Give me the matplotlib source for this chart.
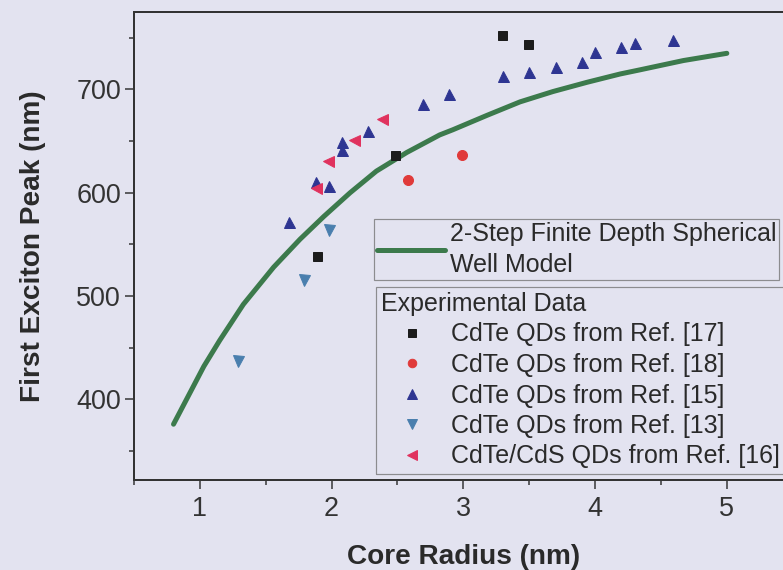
import matplotlib
matplotlib.use("Agg")
import matplotlib.pyplot as plt
from matplotlib.ticker import MultipleLocator

plt.rcParams['font.family'] = ['Liberation Sans', 'DejaVu Sans']

#%% data
# model curve (2-step finite depth spherical well)
model_r  = [0.80, 1.03, 1.15, 1.33, 1.56, 1.76, 1.94, 2.14, 2.34, 2.57,
            2.82, 2.92, 3.18, 3.43, 3.68, 3.94, 4.19, 4.34, 4.67, 5.00]
model_pk = [376, 432, 457, 492, 528, 555, 577, 600, 621, 639,
            656, 661, 675, 688, 698, 707, 715, 719, 728, 735]

# experimental data
ref17_r  = [1.89, 2.48, 3.29, 3.49]
ref17_pk = [539, 637, 753, 744]

ref18_r  = [2.58, 2.99]
ref18_pk = [612, 637]

ref15_r  = [1.68, 1.88, 1.98, 2.08, 2.08, 2.28, 2.69, 2.89, 3.30, 3.50,
            3.70, 3.90, 4.00, 4.20, 4.30, 4.59]
ref15_pk = [572, 610, 607, 649, 641, 660, 686, 696, 713, 717,
            722, 727, 736, 741, 745, 748]

ref13_r  = [1.29, 1.79, 1.98]
ref13_pk = [437, 516, 564]

ref16_r  = [1.88, 1.97, 2.17, 2.38]
ref16_pk = [605, 631, 651, 671]

#%% plot
W, H = 783, 570
bg = '#e3e3f0'
fig = plt.figure(figsize=(W / 72, H / 72), dpi=72, facecolor=bg)
ax = fig.add_axes([134 / W, 90 / H, (792.7 - 134) / W, (480 - 12) / H])
ax.set_facecolor(bg)

model_line, = ax.plot(model_r, model_pk, color='#3c7a4c', lw=5,
                      solid_capstyle='round', solid_joinstyle='round')

h17, = ax.plot(ref17_r, ref17_pk, 's', color='#1c1c1c', ms=9, ls='none')
h18, = ax.plot(ref18_r, ref18_pk, 'o', color='#e03a3a', ms=10, ls='none')
h15, = ax.plot(ref15_r, ref15_pk, '^', color='#2e3592', ms=11, ls='none')
h13, = ax.plot(ref13_r, ref13_pk, 'v', color='#4a7fae', ms=11, ls='none')
h16, = ax.plot(ref16_r, ref16_pk, '<', color='#e0325e', ms=11, ls='none')

ax.set_xlim(0.5, 5.5)
ax.set_ylim(322, 775)
ax.xaxis.set_major_locator(MultipleLocator(1))
ax.xaxis.set_minor_locator(MultipleLocator(0.5))
ax.yaxis.set_major_locator(MultipleLocator(100))
ax.yaxis.set_minor_locator(MultipleLocator(50))
ax.tick_params(which='major', direction='out', length=9, width=1.5,
               labelsize=27, colors='#333333', pad=4)
ax.tick_params(axis='x', which='major', pad=7)
ax.tick_params(which='minor', direction='out', length=5, width=1.5,
               colors='#333333')
for s in ax.spines.values():
    s.set_color('#333333')
    s.set_linewidth(2)

ax.set_xlabel('Core Radius (nm)', fontsize=28, fontweight='bold',
              color='#2a2a2a', labelpad=22)
ax.set_ylabel('First Exciton Peak (nm)', fontsize=28, fontweight='bold',
              color='#2a2a2a', labelpad=30)

leg1 = ax.legend([model_line], ['2-Step Finite Depth Spherical\nWell Model'],
                 loc='upper left', bbox_to_anchor=(374 / W, 1 - 219 / H),
                 bbox_transform=fig.transFigure, borderaxespad=0,
                 fontsize=25, frameon=True, fancybox=False,
                 edgecolor='#777777', facecolor='none',
                 borderpad=0.1, handlelength=2.75, handletextpad=0.2)
leg1.get_frame().set_linewidth(1.2)
for t in leg1.get_texts():
    t.set_color('#2a2a2a')
    t.set_linespacing(1.4)
ax.add_artist(leg1)

leg2 = ax.legend([h17, h18, h15, h13, h16],
                 ['CdTe QDs from Ref. [17]', 'CdTe QDs from Ref. [18]',
                  'CdTe QDs from Ref. [15]', 'CdTe QDs from Ref. [13]',
                  'CdTe/CdS QDs from Ref. [16]'],
                 title='Experimental Data', title_fontsize=25,
                 alignment='left',
                 loc='upper left', bbox_to_anchor=(376 / W, 1 - 287 / H),
                 bbox_transform=fig.transFigure, borderaxespad=0,
                 fontsize=25, frameon=True, fancybox=False,
                 edgecolor='#777777', facecolor='none',
                 borderpad=0.2, handlelength=2.5, handletextpad=0.3,
                 labelspacing=0.26, markerscale=0.85)
leg2.get_frame().set_linewidth(1.2)
leg2.get_title().set_color('#2a2a2a')
for t in leg2.get_texts():
    t.set_color('#2a2a2a')

fig.savefig('out.png', dpi=72, facecolor=bg)
